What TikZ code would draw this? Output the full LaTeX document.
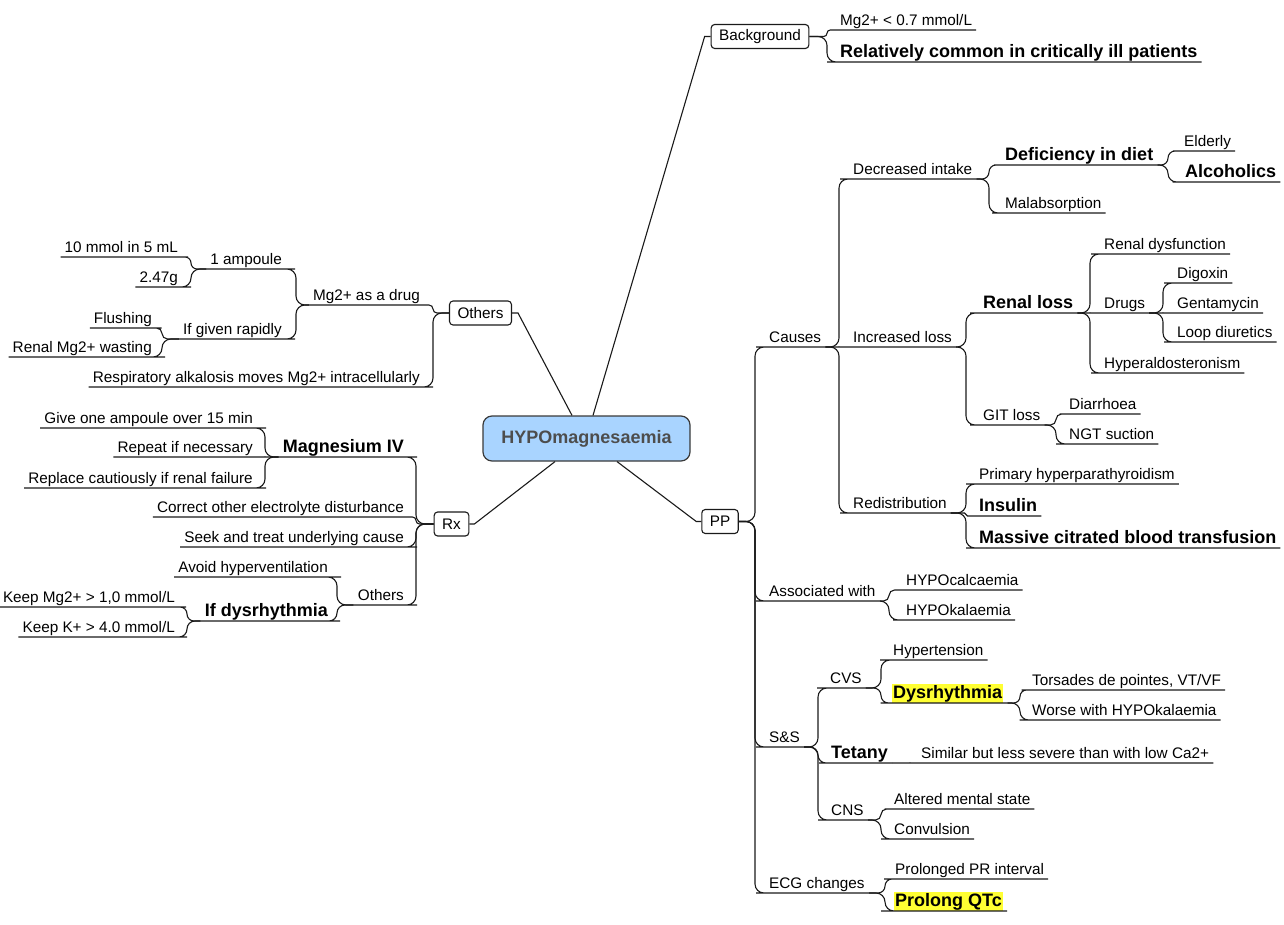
\documentclass[tikz,border=0pt]{standalone}
\usepackage{fontspec}
\setmainfont{Liberation Sans}
\usetikzlibrary{calc}
\definecolor{rootfill}{HTML}{A9D4FF}
\definecolor{rootdraw}{HTML}{3A3A3A}
\definecolor{roottext}{HTML}{4D4D4D}
\definecolor{hlyellow}{HTML}{FFFF33}
\definecolor{linec}{HTML}{1A1A1A}
\newcommand\hlt[1]{{\setlength{\fboxsep}{1pt}\colorbox{hlyellow}{#1}}}
\newcommand\Rc[3]{\draw[conn] let \p1=(#2), \p2=(#3.south west), \n1={max(0.01,min(9,abs(\y2-(\y1))/2))} in [rounded corners=\n1] (\p1) -- (#1pt,\y1) |- (\p2) -- (#3.south east);}
\newcommand\Lc[3]{\draw[conn] let \p1=(#2), \p2=(#3.south east), \n1={max(0.01,min(9,abs(\y2-(\y1))/2))} in [rounded corners=\n1] (\p1) -- (#1pt,\y1) |- (\p2) -- (#3.south west);}
\tikzset{
 conn/.style={draw=linec, line width=1.1pt},
 basetxt/.style={inner xsep=4pt, inner ysep=1pt, text depth=3.5pt, text=black},
 nt/.style={basetxt, font=\fontsize{15.3}{18}\selectfont, text height=11pt},
 bt/.style={basetxt, font=\bfseries\fontsize{18}{21}\selectfont, text height=13pt},
 rn/.style={anchor=south west},
 ln/.style={anchor=south east},
 box/.style={draw=linec, line width=1.1pt, rounded corners=3.5pt, fill=white, font=\fontsize{15.3}{18}\selectfont, inner xsep=8pt, inner ysep=0pt, minimum height=24pt},
 rootbox/.style={draw=rootdraw, fill=rootfill, line width=1.2pt, rounded corners=9pt, minimum width=207pt, minimum height=45pt, font=\bfseries\fontsize{18}{21}\selectfont, text=roottext}
}
\begin{document}
\begin{tikzpicture}[x=1pt,y=-1pt]
\useasboundingbox (0,0) rectangle (1284,925);
% root and main boxes
\node[rootbox] (root) at (586.5,438.5) {HYPOmagnesaemia};
\node[box] (bg) at (760,36.5) {Background};
\node[box] (others) at (480.5,313) {Others};
\node[box] (rx) at (451.5,524) {Rx};
\node[box] (pp) at (720,521.5) {PP};
\draw[conn] ($(root.north)+(6.5,0)$) -- ($(bg.west)+(-6,0)$) -- (bg.west);
\draw[conn] ($(root.north)+(-14.5,0)$) -- ($(others.east)+(6,0)$) -- (others.east);
\draw[conn] ($(root.south)+(-31.5,0)$) -- ($(rx.east)+(5,0)$) -- (rx.east);
\draw[conn] ($(root.south)+(30.5,0)$) -- ($(pp.west)+(-5,0)$) -- (pp.west);
% right side nodes
\node[nt,rn] (mg07) at (836,30) {Mg2+ < 0.7 mmol/L};
\node[bt,rn] (relcom) at (836,62) {Relatively common in critically ill patients};
\node[nt,rn] (causes) at (765,347) {Causes};
\node[nt,rn] (assoc) at (765,601) {Associated with};
\node[nt,rn] (ss) at (765,747) {S\&S};
\node[nt,rn] (ecg) at (765,893) {ECG changes};
\node[nt,rn] (decint) at (849,179) {Decreased intake};
\node[nt,rn] (incloss) at (849,347) {Increased loss};
\node[nt,rn] (redist) at (849,513) {Redistribution};
\node[bt,rn] (defdiet) at (1001,165) {Deficiency in diet};
\node[nt,rn] (malabs) at (1001,213) {Malabsorption};
\node[nt,rn] (elderly) at (1180,151) {Elderly};
\node[bt,rn] (alcoh) at (1181,182) {Alcoholics};
\node[bt,rn] (renloss) at (979,313) {Renal loss};
\node[nt,rn] (gitloss) at (979,425) {GIT loss};
\node[nt,rn] (rendys) at (1100,254) {Renal dysfunction};
\node[nt,rn] (drugs) at (1100,313) {Drugs};
\node[nt,rn] (hyperald) at (1100,373) {Hyperaldosteronism};
\node[nt,rn] (digoxin) at (1173,283) {Digoxin};
\node[nt,rn] (gent) at (1173,313) {Gentamycin};
\node[nt,rn] (loopd) at (1173,342) {Loop diuretics};
\node[nt,rn] (diarr) at (1065,414) {Diarrhoea};
\node[nt,rn] (ngt) at (1065,444) {NGT suction};
\node[nt,rn] (primhyp) at (975,484) {Primary hyperparathyroidism};
\node[bt,rn] (insulin) at (975,516) {Insulin};
\node[bt,rn] (massive) at (975,548) {Massive citrated blood transfusion};
\node[nt,rn] (hypoca) at (902,590) {HYPOcalcaemia};
\node[nt,rn] (hypok) at (902,620) {HYPOkalaemia};
\node[nt,rn] (hypert) at (889,660) {Hypertension};
\node[nt,rn] (cvs) at (826,688) {CVS};
\node[bt,rn] (dysr) at (888,703) {\hlt{Dysrhythmia}};
\node[nt,rn] (torsades) at (1028,690) {Torsades de pointes, VT/VF};
\node[nt,rn] (worse) at (1028,720) {Worse with HYPOkalaemia};
\node[bt,rn] (tetany) at (827,763) {Tetany};
\node[nt,rn] (similar) at (917,763) {Similar but less severe than with low Ca2+};
\node[nt,rn] (altered) at (890,809) {Altered mental state};
\node[nt,rn] (cns) at (827,820) {CNS};
\node[nt,rn] (convul) at (890,839) {Convulsion};
\node[nt,rn] (prpr) at (891,879) {Prolonged PR interval};
\node[bt,rn] (qtc) at (890,911) {\hlt{Prolong QTc}};
% left side nodes
\node[nt,ln] (mgdrug) at (424,305) {Mg2+ as a drug};
\node[nt,ln] (resp) at (424,387) {Respiratory alkalosis moves Mg2+ intracellularly};
\node[nt,ln] (amp) at (286,269) {1 ampoule};
\node[nt,ln] (rapid) at (286,339) {If given rapidly};
\node[nt,ln] (ten) at (182,257) {10 mmol in 5 mL};
\node[nt,ln] (g247) at (182,287) {2.47g};
\node[nt,ln] (flush) at (156,328) {Flushing};
\node[nt,ln] (wasting) at (156,357) {Renal Mg2+ wasting};
\node[bt,ln] (magiv) at (408,457) {Magnesium IV};
\node[nt,ln] (correct) at (408,517) {Correct other electrolyte disturbance};
\node[nt,ln] (seek) at (408,547) {Seek and treat underlying cause};
\node[nt,ln] (oth2) at (408,605) {Others};
\node[nt,ln] (give) at (257,428) {Give one ampoule over 15 min};
\node[nt,ln] (repeat) at (257,457) {Repeat if necessary};
\node[nt,ln] (replace) at (257,488) {Replace cautiously if renal failure};
\node[nt,ln] (avoid) at (332,577) {Avoid hyperventilation};
\node[bt,ln] (ifdys) at (332,621) {If dysrhythmia};
\node[nt,ln] (keepmg) at (179,607) {Keep Mg2+ > 1,0 mmol/L};
\node[nt,ln] (keepk) at (179,637) {Keep K+ > 4.0 mmol/L};
% right connectors
\Rc{827}{bg.east}{mg07} \Rc{827}{bg.east}{relcom}
\Rc{755}{pp.east}{causes} \Rc{755}{pp.east}{assoc} \Rc{755}{pp.east}{ss} \Rc{755}{pp.east}{ecg}
\Rc{839}{causes.south east}{decint} \Rc{839}{causes.south east}{incloss} \Rc{839}{causes.south east}{redist}
\Rc{989}{decint.south east}{defdiet} \Rc{989}{decint.south east}{malabs}
\Rc{1168}{defdiet.south east}{elderly} \Rc{1168}{defdiet.south east}{alcoh}
\Rc{966}{incloss.south east}{renloss} \Rc{966}{incloss.south east}{gitloss}
\Rc{1090}{renloss.south east}{rendys} \Rc{1090}{renloss.south east}{drugs} \Rc{1090}{renloss.south east}{hyperald}
\Rc{1163}{drugs.south east}{digoxin} \Rc{1163}{drugs.south east}{gent} \Rc{1163}{drugs.south east}{loopd}
\Rc{1056}{gitloss.south east}{diarr} \Rc{1056}{gitloss.south east}{ngt}
\Rc{966}{redist.south east}{primhyp} \Rc{966}{redist.south east}{insulin} \Rc{966}{redist.south east}{massive}
\Rc{889}{assoc.south east}{hypoca} \Rc{889}{assoc.south east}{hypok}
\Rc{818}{ss.south east}{cvs} \Rc{818}{ss.south east}{tetany} \Rc{818}{ss.south east}{cns}
\Rc{881}{cvs.south east}{hypert} \Rc{881}{cvs.south east}{dysr}
\Rc{1020}{dysr.south east}{torsades} \Rc{1020}{dysr.south east}{worse}
\Rc{910}{tetany.south east}{similar}
\Rc{881}{cns.south east}{altered} \Rc{881}{cns.south east}{convul}
\Rc{885}{ecg.south east}{prpr} \Rc{885}{ecg.south east}{qtc}
% left connectors
\Lc{433}{others.west}{mgdrug} \Lc{433}{others.west}{resp}
\Lc{296}{mgdrug.south west}{amp} \Lc{296}{mgdrug.south west}{rapid}
\Lc{191}{amp.south west}{ten} \Lc{191}{amp.south west}{g247}
\Lc{162}{rapid.south west}{flush} \Lc{162}{rapid.south west}{wasting}
\Lc{416}{rx.west}{magiv} \Lc{416}{rx.west}{correct} \Lc{416}{rx.west}{seek} \Lc{416}{rx.west}{oth2}
\Lc{265}{magiv.south west}{give} \Lc{265}{magiv.south west}{repeat} \Lc{265}{magiv.south west}{replace}
\Lc{337}{oth2.south west}{avoid} \Lc{337}{oth2.south west}{ifdys}
\Lc{187}{ifdys.south west}{keepmg} \Lc{187}{ifdys.south west}{keepk}
\end{tikzpicture}
\end{document}
